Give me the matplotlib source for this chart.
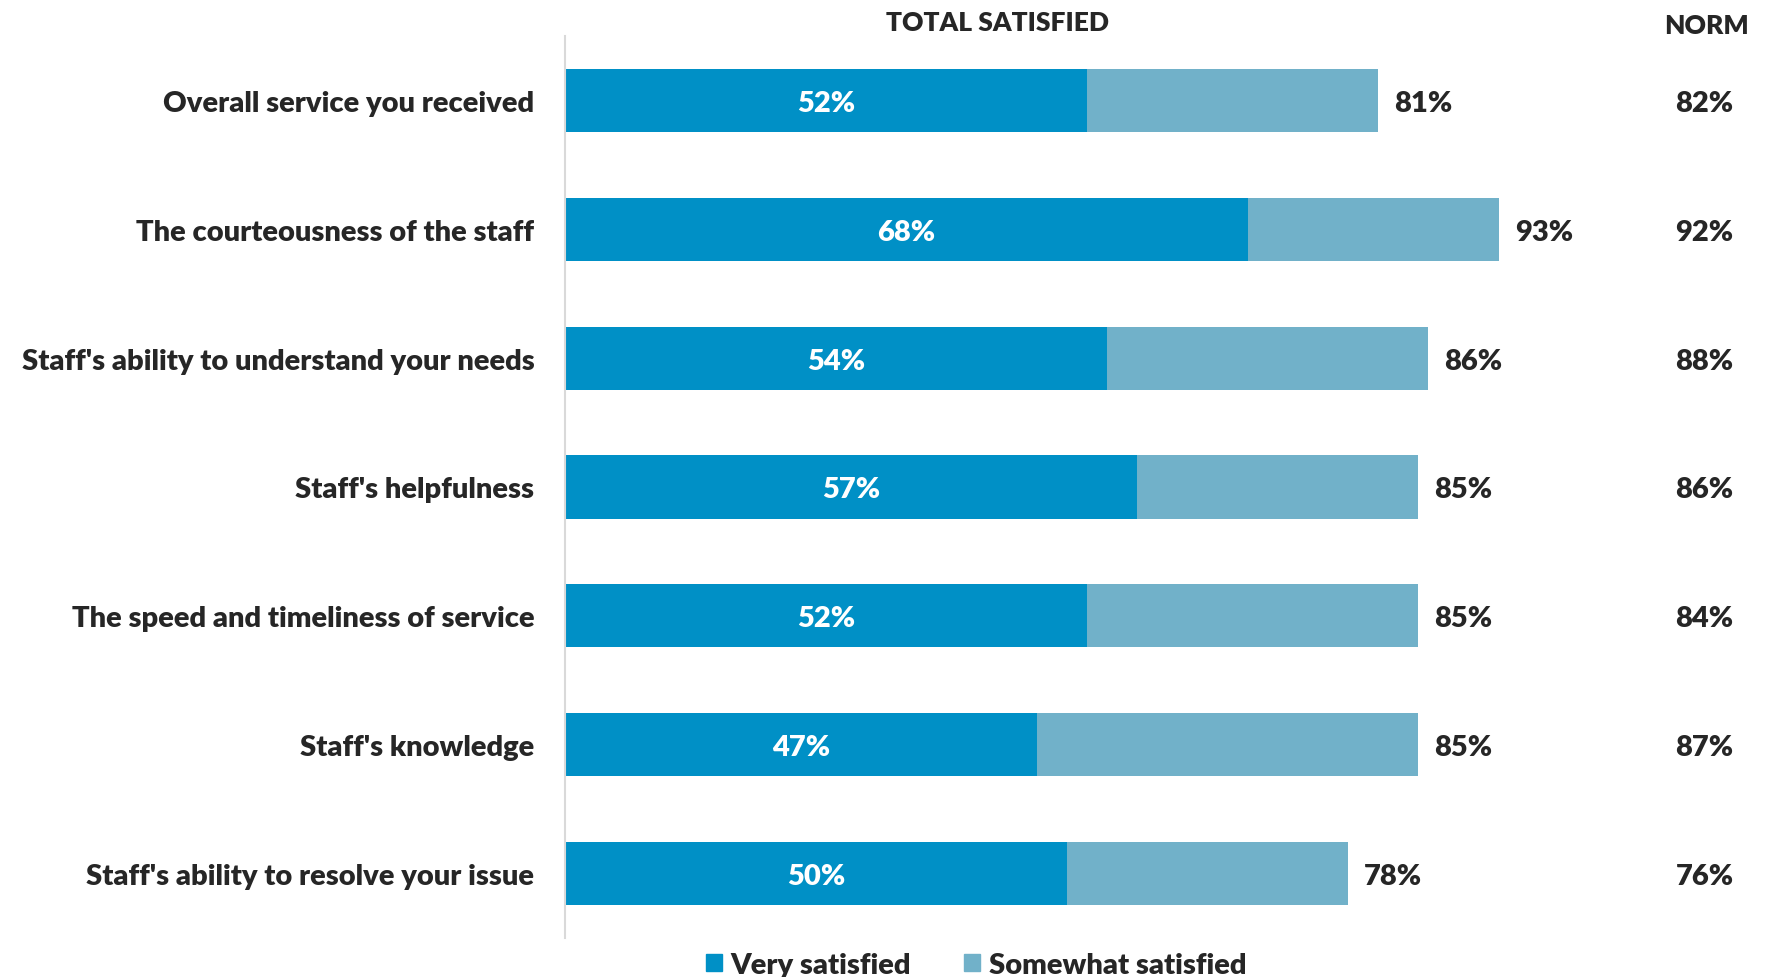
import matplotlib
matplotlib.use("Agg")
import matplotlib.pyplot as plt
from matplotlib.patches import Patch

categories = [
    "Overall service you received",
    "The courteousness of the staff",
    "Staff's ability to understand your needs",
    "Staff's helpfulness",
    "The speed and timeliness of service",
    "Staff's knowledge",
    "Staff's ability to resolve your issue",
]
very_satisfied = [52, 68, 54, 57, 52, 47, 50]
total_satisfied = [81, 93, 86, 85, 85, 85, 78]
norm = [82, 92, 88, 86, 84, 87, 76]
somewhat_satisfied = [t - v for t, v in zip(total_satisfied, very_satisfied)]

DARK = "#0090C6"
LIGHT = "#71B1C9"
TEXT = "#262626"
FONT = ["Lato", "DejaVu Sans"]
FS = 21
W = 800

plt.rcParams["font.family"] = FONT

fig = plt.figure(figsize=(17.73, 9.78), dpi=100)
ax = fig.add_axes([565 / 1773, 1 - 939 / 978, (1569 - 565) / 1773, 902 / 978])

y = list(range(len(categories)))
ax.barh(y, very_satisfied, height=0.49, color=DARK, label="Very satisfied")
ax.barh(y, somewhat_satisfied, left=very_satisfied, height=0.49, color=LIGHT,
        label="Somewhat satisfied")

ax.set_xlim(0, 100)
ax.set_ylim(len(categories) - 0.5, -0.5)

for i in y:
    ax.text(very_satisfied[i] / 2, i, f"{very_satisfied[i]}%", ha="center", va="center_baseline",
            color="white", fontsize=FS, fontweight=W)
    ax.text(total_satisfied[i] + 1.6, i, f"{total_satisfied[i]}%", ha="left", va="center_baseline",
            color=TEXT, fontsize=FS, fontweight=W)
    ax.text(113.5, i, f"{norm[i]}%", ha="center", va="center_baseline",
            color=TEXT, fontsize=FS, fontweight=W, clip_on=False)

ax.set_yticks(y)
ax.set_yticklabels(categories, fontsize=FS, fontweight=W, color=TEXT)
ax.tick_params(axis="y", length=0, pad=22)
ax.set_xticks([])

for side in ("top", "right", "bottom"):
    ax.spines[side].set_visible(False)
ax.spines["left"].set_color("#D9D9D9")
ax.spines["left"].set_linewidth(1.5)

fig.text(998 / 1773, 1 - 23 / 978, "TOTAL SATISFIED", ha="center", va="center",
         fontsize=19, fontweight=W, color=TEXT)
fig.text(1707 / 1773, 1 - 26 / 978, "NORM", ha="center", va="center",
         fontsize=19, fontweight=W, color=TEXT)

handles = [Patch(color=DARK, label="Very satisfied"),
           Patch(color=LIGHT, label="Somewhat satisfied")]
leg = fig.legend(handles=handles, loc="center", bbox_to_anchor=(976 / 1773, 1 - 966 / 978),
                 ncol=2, frameon=False, handlelength=0.55, handleheight=0.55,
                 handletextpad=0.3, columnspacing=1.8, prop={"weight": W, "size": FS})
for t in leg.get_texts():
    t.set_color(TEXT)

fig.savefig("out.png", dpi=100)
